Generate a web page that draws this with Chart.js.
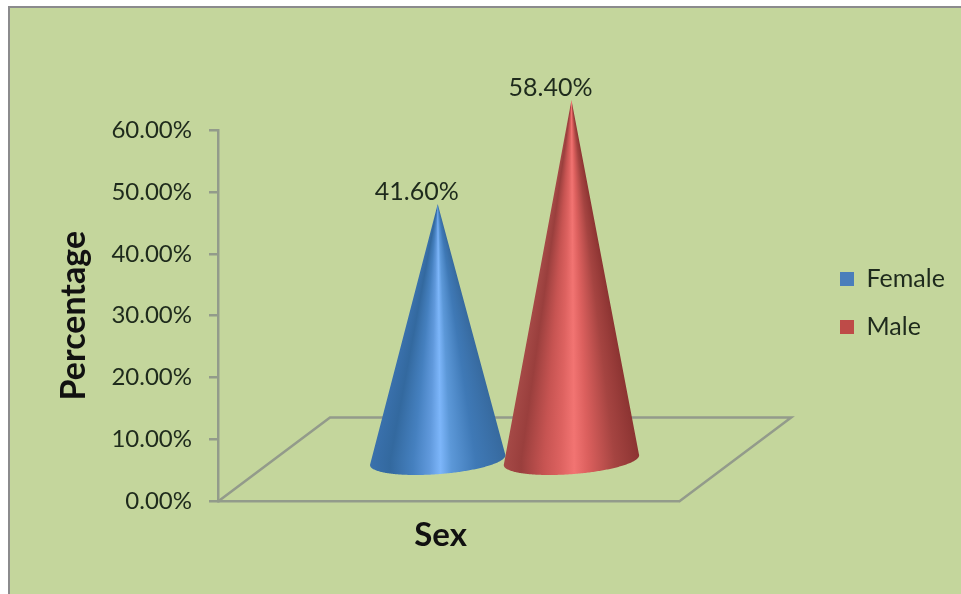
<!DOCTYPE html>
<html>
<head>
<meta charset="utf-8">
<title>Sex</title>
<script src="https://cdn.jsdelivr.net/npm/chart.js@4"></script>
<style>
  html, body { margin: 0; padding: 0; background: #fff; }
  #wrap { width: 961px; height: 594px; }
</style>
</head>
<body>
<div id="wrap"><canvas id="cone-chart" width="961" height="594"></canvas></div>
<script>
const categories = ['Sex'];
const seriesNames = ['Female', 'Male'];
const female = [41.6];
const male = [58.4];
const yTicks = [0, 10, 20, 30, 40, 50, 60];

const LINE = '#939b8b';
const INK = '#1e2a1c';
const FONT = 'Lato, "Open Sans", sans-serif';

// floor depth in pixels; cones stand in the middle of it
const DEPTH_X = 112;
const DEPTH_Y = 84;
const CONE_X = 56;
const CONE_Y = 40;

const ramps = [
  [[0, '#3a71ad'], [0.15, '#33699f'], [0.32, '#4580bf'], [0.44, '#6099dc'], [0.52, '#7db6fa'], [0.6, '#5c98d8'], [0.78, '#3f79b6'], [1, '#376a9f']],
  [[0, '#a64a47'], [0.13, '#9a3f3d'], [0.3, '#c75452'], [0.42, '#dd6260'], [0.52, '#f27472'], [0.62, '#dc605e'], [0.82, '#a54441'], [1, '#8c3432']]
];

// cone painted row by row inside its outline, the shading narrows toward the tip
function drawCone(ctx, cx, cy, tipX, tipY, rx, ramp) {
  const ry = 14, rot = -0.075;
  const lean = 0.06;
  const pt = t => [
    cx + rx * Math.cos(t) * Math.cos(rot) - ry * Math.sin(t) * Math.sin(rot),
    cy + rx * Math.cos(t) * Math.sin(rot) + ry * Math.sin(t) * Math.cos(rot)
  ];
  ctx.save();
  ctx.beginPath();
  ctx.moveTo(tipX, tipY);
  for (let t = -lean; t <= Math.PI + lean; t += 0.02) {
    const p = pt(t);
    ctx.lineTo(p[0], p[1]);
  }
  ctx.closePath();
  ctx.clip();
  const bottom = Math.ceil(cy + ry + 6);
  for (let y = Math.floor(tipY); y < bottom; y++) {
    const k = Math.min(1, Math.max(0.002, (y + 0.5 - tipY) / (cy - tipY)));
    const mid = tipX + (cx - tipX) * k;
    const half = rx * k;
    const g = ctx.createLinearGradient(mid - half, 0, mid + half, 0);
    ramp.forEach(s => g.addColorStop(s[0], s[1]));
    ctx.fillStyle = g;
    ctx.fillRect(mid - half - 3, y, 2 * half + 6, 1);
  }
  ctx.restore();
}

const panel = {
  id: 'panel',
  beforeDraw(chart) {
    const ctx = chart.ctx;
    ctx.save();
    ctx.fillStyle = '#c4d69c';
    ctx.fillRect(9, 7, chart.width - 9, chart.height - 7);
    ctx.strokeStyle = '#8b8b8d';
    ctx.lineWidth = 2;
    ctx.beginPath();
    ctx.moveTo(9, chart.height);
    ctx.lineTo(9, 7);
    ctx.lineTo(chart.width, 7);
    ctx.stroke();
    ctx.restore();
  }
};

const floor = {
  id: 'floor',
  beforeDatasetsDraw(chart) {
    const a = chart.chartArea, ctx = chart.ctx;
    ctx.save();
    ctx.strokeStyle = LINE;
    ctx.lineWidth = 2.5;
    ctx.beginPath();
    ctx.moveTo(a.left, a.bottom);
    ctx.lineTo(a.left + DEPTH_X, a.bottom - DEPTH_Y);
    ctx.lineTo(a.right + DEPTH_X, a.bottom - DEPTH_Y);
    ctx.lineTo(a.right, a.bottom);
    ctx.stroke();
    ctx.restore();
  }
};

const cones = {
  id: 'cones',
  // the bar elements only give the geometry, each one is painted as a cone
  beforeDatasetDraw(chart, args) {
    const bar = args.meta.data[0];
    const cx = bar.x + CONE_X;
    const cy = bar.base - CONE_Y;
    const tipY = bar.y - CONE_Y;
    drawCone(chart.ctx, cx, cy, cx, tipY, bar.width / 2 + 1, ramps[args.index]);
    return false;
  },
  afterDatasetsDraw(chart) {
    const ctx = chart.ctx;
    ctx.save();
    ctx.fillStyle = INK;
    ctx.font = '25px ' + FONT;
    ctx.textAlign = 'center';
    ctx.textBaseline = 'middle';
    chart.data.datasets.forEach((ds, i) => {
      const bar = chart.getDatasetMeta(i).data[0];
      ctx.fillText(ds.data[0].toFixed(2) + '%', bar.x + CONE_X - 21, bar.y - CONE_Y - 12);
    });
    ctx.restore();
  }
};

// legend sits well clear of the floor, not against the plot area
const legendPlace = {
  id: 'legendPlace',
  afterLayout(chart) {
    const l = chart.legend;
    const w = l.right - l.left;
    l.left = 817;
    l.right = 817 + w;
    l.top = 0;
    l.bottom = 606;
  }
};

new Chart(document.getElementById('cone-chart'), {
  type: 'bar',
  data: {
    labels: categories,
    datasets: [
      { label: seriesNames[0], data: female, backgroundColor: '#4a7ebb', categoryPercentage: 0.58, barPercentage: 1 },
      { label: seriesNames[1], data: male, backgroundColor: '#be4b48', categoryPercentage: 0.58, barPercentage: 1 }
    ]
  },
  plugins: [panel, floor, cones, legendPlace],
  options: {
    responsive: false,
    animation: false,
    layout: { autoPadding: false, padding: { left: 54, top: 130, right: 144, bottom: 33 } },
    plugins: {
      tooltip: { enabled: false },
      title: { display: false },
      legend: {
        position: 'right',
        labels: {
          boxWidth: 14,
          boxHeight: 14,
          padding: 23,
          color: INK,
          font: { family: FONT, size: 25 }
        }
      }
    },
    scales: {
      x: {
        border: { color: LINE, width: 2.5 },
        grid: { display: false },
        ticks: { labelOffset: -8, padding: 6, color: '#111', font: { family: FONT, size: 33, weight: 'bold' } }
      },
      y: {
        min: 0,
        max: 60,
        afterBuildTicks(scale) {
          scale.ticks = yTicks.map(v => ({ value: v }));
        },
        afterFit(scale) {
          scale.width = 164;
        },
        border: { color: LINE, width: 2.5 },
        grid: { drawOnChartArea: false, color: LINE, lineWidth: 2.5, tickLength: 9 },
        ticks: {
          padding: 17,
          color: INK,
          font: { family: FONT, size: 24 },
          callback: v => v.toFixed(2) + '%'
        },
        title: {
          display: true,
          text: 'Percentage',
          color: '#111',
          padding: 0,
          font: { family: FONT, size: 34, weight: 'bold' }
        }
      }
    }
  }
});
</script>
</body>
</html>
